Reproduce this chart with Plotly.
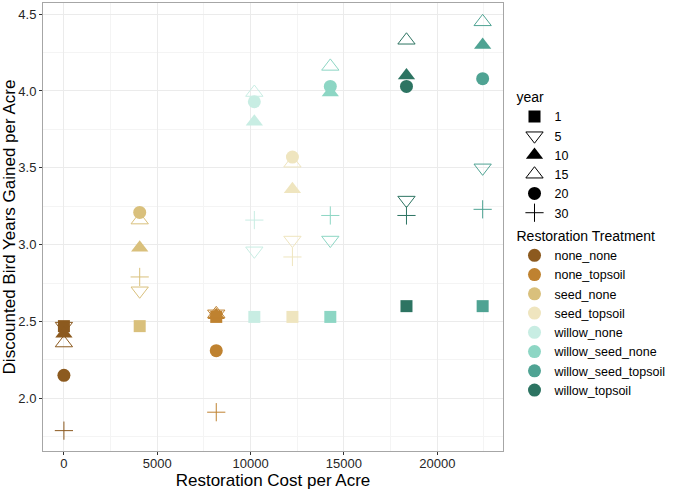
import plotly.graph_objects as go

treatments = ["none_none", "none_topsoil", "seed_none", "seed_topsoil",
              "willow_none", "willow_seed_none", "willow_seed_topsoil", "willow_topsoil"]
colors = ["#8c5a1f", "#bf8230", "#d9c07c", "#efe5bf",
          "#c8ede3", "#8dd6c4", "#4fa393", "#2d7462"]
costs = [0, 8160, 4060, 12240, 10200, 14270, 22430, 18350]
years = [1, 5, 10, 15, 20, 30]

# value per treatment for each year
gain_y1 = [2.47, 2.53, 2.47, 2.53, 2.53, 2.53, 2.60, 2.60]
gain_y5 = [2.47, 2.55, 2.70, 3.03, 2.96, 3.03, 3.50, 3.29]
gain_y10 = [2.42, 2.54, 2.98, 3.36, 3.80, 3.99, 4.30, 4.10]
gain_y15 = [2.36, 2.55, 3.16, 3.53, 3.99, 4.16, 4.45, 4.33]
gain_y20 = [2.15, 2.31, 3.21, 3.57, 3.93, 4.03, 4.08, 4.03]
gain_y30 = [1.79, 1.91, 2.79, 2.92, 3.16, 3.19, 3.23, 3.19]
gains = [gain_y1, gain_y5, gain_y10, gain_y15, gain_y20, gain_y30]

x_ticks = [0, 5000, 10000, 15000, 20000]
x_ticklabels = ["0", "5000", "10000", "15000", "20000"]
y_ticks = [2.0, 2.5, 3.0, 3.5, 4.0, 4.5]

symbols = ["square", "triangle-down-open", "triangle-up", "triangle-up-open", "circle", "cross-thin-open"]
sizes = [12, 15, 15, 15, 13, 13]

fig = go.Figure()
for yr, vals, sym, sz in zip(years, gains, symbols, sizes):
    fig.add_trace(go.Scatter(
        x=costs, y=vals, mode="markers", showlegend=False,
        marker=dict(symbol=sym, size=sz, color=colors,
                    line=dict(width=1, color=colors) if "open" in sym else dict(width=0)),
        hoverinfo="x+y"))

# legend: year (shape)
for yr, sym, sz in zip(years, symbols, sizes):
    fig.add_trace(go.Scatter(
        x=[None], y=[None], mode="markers", name=str(yr), legend="legend",
        marker=dict(symbol=sym, size=sz, color="black",
                    line=dict(width=1, color="black") if "open" in sym else dict(width=0))))

# legend: treatment (colour)
for tr, c in zip(treatments, colors):
    fig.add_trace(go.Scatter(
        x=[None], y=[None], mode="markers", name=tr, legend="legend2",
        marker=dict(symbol="circle", size=13, color=c)))

axis_common = dict(
    showline=True, linecolor="#a6a6a6", linewidth=1, mirror=True,
    showgrid=True, gridcolor="#ebebeb", gridwidth=1,
    ticks="outside", ticklen=3, tickcolor="#333333",
    tickfont=dict(size=13, color="#262626"),
    zeroline=False, automargin=False,
)

fig.update_layout(
    width=675, height=490,
    margin=dict(l=43, r=159, t=3, b=39),
    paper_bgcolor="white", plot_bgcolor="white",
    font=dict(family="Liberation Sans, Arial, sans-serif", color="black"),
    xaxis=dict(range=[-1120, 23520], tickvals=x_ticks, ticktext=x_ticklabels,
               ticklabelstandoff=-3,
               minor=dict(showgrid=True, gridcolor="#f4f4f4", dtick=2500, tick0=2500),
               title=dict(text="Restoration Cost per Acre", font=dict(size=17), standoff=0),
               **axis_common),
    yaxis=dict(range=[1.6575, 4.5725], tickvals=y_ticks,
               tickformat=".1f",
               minor=dict(showgrid=True, gridcolor="#f4f4f4", dtick=0.25, tick0=1.75),
               title=dict(text="Discounted Bird Years Gained per Acre", font=dict(size=17), standoff=4),
               **axis_common),
    legend=dict(x=1.025, y=0.82, xanchor="left", yanchor="top",
                title=dict(text="year", font=dict(size=14)),
                font=dict(size=12.5), tracegroupgap=0, itemsizing="trace",
                bgcolor="rgba(0,0,0,0)"),
    legend2=dict(x=1.025, y=0.51, xanchor="left", yanchor="top",
                 title=dict(text="Restoration Treatment", font=dict(size=14)),
                 font=dict(size=12.5), tracegroupgap=0, itemsizing="trace",
                 bgcolor="rgba(0,0,0,0)"),
)

fig.write_html("out.html")
